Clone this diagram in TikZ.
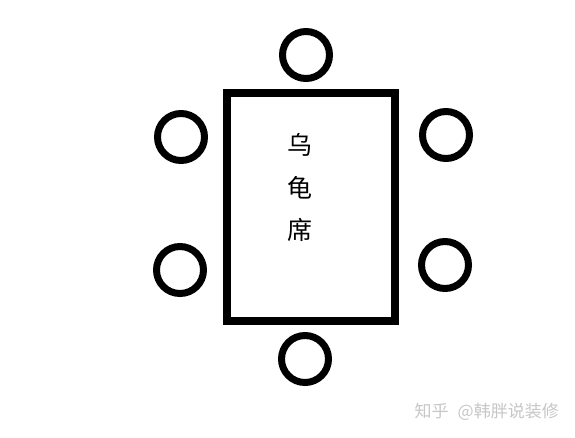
\documentclass[tikz,border=0pt]{standalone}
\usepackage{fontspec}
\newfontfamily\cjk{Noto Sans CJK SC}
\begin{document}
\begin{tikzpicture}[x=1pt,y=-1pt,
  seat/.style={draw=black,line width=7pt,circle,minimum size=47pt,inner sep=0pt},
  table/.style={draw=black,line width=8pt},
  lbl/.style={font=\cjk\fontsize{25}{25}\selectfont,text=black,inner sep=0pt},
  wm/.style={font=\cjk\fontsize{17}{17}\selectfont,text=black!22,inner sep=0pt,anchor=east}]
\useasboundingbox (0,0) rectangle (575,437);
\fill[white] (0,0) rectangle (575,437);
\draw[table] (227,93) rectangle (395,321);
\node[seat] (t) at (306,55) {};
\node[seat] (lt) at (181,137) {};
\node[seat] (lb) at (180,270) {};
\node[seat] (rt) at (446,135) {};
\node[seat] (rb) at (445,265) {};
\node[seat] (b) at (305,359) {};
\node[lbl] (c1) at (300,145) {乌};
\node[lbl] (c2) at (300,188) {龟};
\node[lbl] (c3) at (300,230) {席};
\node[wm] (w) at (559,412) {知乎\hspace{9pt}@韩胖说装修};
\end{tikzpicture}
\end{document}
